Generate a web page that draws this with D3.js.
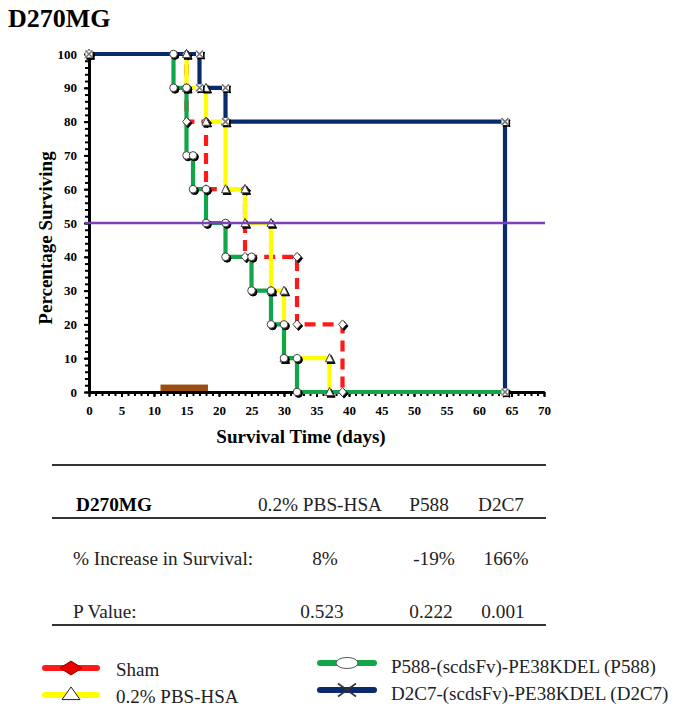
<!DOCTYPE html>
<html><head><meta charset="utf-8">
<script src="https://cdn.jsdelivr.net/npm/d3@7"></script>
<style>body{margin:0;background:#fff}svg{display:block}text{font-family:"Liberation Serif","Times New Roman",serif}</style>
</head><body><svg id="c" width="679" height="717"></svg>
<script>
// ---------- data ----------
const chartTitle = "D270MG";
const xTickValues = d3.range(0, 71, 5);
const yTickValues = d3.range(0, 101, 10);
const seriesNames = ["Sham", "0.2% PBS-HSA", "P588", "D2C7"];
// death times (days) and percentage surviving after each drop
const shamTimes = [15, 18, 24, 32, 39];
const shamSurv  = [80, 60, 40, 20, 0];
const pbsTimes  = [15, 18, 21, 24, 28, 30, 37];
const pbsSurv   = [90, 80, 60, 50, 30, 10, 0];
const p588Times = [13, 15, 16, 18, 21, 25, 28, 30, 32];
const p588Surv  = [90, 70, 60, 50, 40, 30, 20, 10, 0];
const d2c7Times = [17, 21, 64];
const d2c7Surv  = [90, 80, 0];
const seriesEndDay = [39, 37, 64, 64];
const medianLevel = 50;
const treatmentWindow = [11, 18.3];
const tableHeader = ["D270MG", "0.2% PBS-HSA", "P588", "D2C7"];
const pctIncrease = ["8%", "-19%", "166%"];
const pValues = ["0.523", "0.222", "0.001"];
const legendLabels = ["Sham", "0.2% PBS-HSA", "P588-(scdsFv)-PE38KDEL (P588)", "D2C7-(scdsFv)-PE38KDEL (D2C7)"];

// ---------- setup ----------
const svg = d3.select("#c");
svg.append("rect").attr("width", 679).attr("height", 717).attr("fill", "#fff");
const x = d3.scaleLinear().domain([0, 70]).range([89, 544]);
const y = d3.scaleLinear().domain([0, 100]).range([392, 54]);

const colors = ["#ff1a1a", "#ffff00", "#13a54a", "#0b2a6b"];
const shapes = ["diamond", "triangle", "circle", "x"];
const seriesTimes = [shamTimes, pbsTimes, p588Times, d2c7Times];
const seriesSurv = [shamSurv, pbsSurv, p588Surv, d2c7Surv];

svg.append("text").attr("x", 8).attr("y", 27).attr("font-size", 26).attr("font-weight", "bold").text(chartTitle);

// treatment bar
svg.append("rect")
  .attr("x", x(treatmentWindow[0])).attr("width", x(treatmentWindow[1]) - x(treatmentWindow[0]))
  .attr("y", y(2.2)).attr("height", y(0) - y(2.2)).attr("fill", "#9a4d0e");

// axes
function styleAxis(g) {
  g.select(".domain").attr("stroke", "#000").attr("stroke-width", 3);
  g.selectAll(".tick line").attr("stroke", "#000").attr("stroke-width", 2);
  g.selectAll("text").attr("font-family", "'Liberation Serif',serif").attr("font-weight", "bold").attr("font-size", 13).attr("fill", "#000");
}
const gxMinor = svg.append("g").attr("transform", `translate(0,${y(0)})`)
  .call(d3.axisBottom(x).tickValues(d3.range(0, 71, 1)).tickSize(4).tickSizeOuter(0).tickFormat(""));
styleAxis(gxMinor);
const gx = svg.append("g").attr("transform", `translate(0,${y(0)})`)
  .call(d3.axisBottom(x).tickValues(xTickValues).tickSize(5).tickSizeOuter(0).tickPadding(9));
styleAxis(gx);
const gyMinor = svg.append("g").attr("transform", `translate(${x(0)},0)`)
  .call(d3.axisLeft(y).tickValues(d3.range(0, 101, 2)).tickSize(4).tickSizeOuter(0).tickFormat(""));
styleAxis(gyMinor);
const gy = svg.append("g").attr("transform", `translate(${x(0)},0)`)
  .call(d3.axisLeft(y).tickValues(yTickValues).tickSize(5).tickSizeOuter(0).tickPadding(7));
styleAxis(gy);

svg.append("text").attr("x", 301).attr("y", 443).attr("text-anchor", "middle")
  .attr("font-size", 19).attr("font-weight", "bold").text("Survival Time (days)");
svg.append("text").attr("transform", "translate(52,238) rotate(-90)").attr("text-anchor", "middle")
  .attr("font-size", 19).attr("font-weight", "bold").text("Percentage Surviving");

// survival step lines
const line = d3.line().x(d => x(d[0])).y(d => y(d[1])).curve(d3.curveStepAfter);
const seriesPoints = seriesTimes.map((ts, i) => {
  const pts = [[0, 100]];
  ts.forEach((t, j) => pts.push([t, seriesSurv[i][j]]));
  pts.push([seriesEndDay[i], seriesSurv[i][seriesSurv[i].length - 1]]);
  return pts;
});
[0, 1, 2, 3].forEach(i => {
  const p = svg.append("path").attr("d", line(seriesPoints[i])).attr("fill", "none")
    .attr("stroke", colors[i]).attr("stroke-width", 4.2);
  if (i === 0) p.attr("stroke-dasharray", "11,7");
});

// markers
function shapePath(s, w, h) {
  if (s === "diamond") return `M0,${-h}L${w},0L0,${h}L${-w},0Z`;
  return `M0,${-h}L${w},${h * 0.8}L${-w},${h * 0.8}Z`;
}
function drawMarker(g, s, cx, cy, w, h, fill, stroke, shadow) {
  const grp = g.append("g").attr("transform", `translate(${cx},${cy})`);
  const draw = (gg, f, st, sw) => {
    if (s === "circle") gg.append("ellipse").attr("rx", w).attr("ry", h).attr("fill", f).attr("stroke", st).attr("stroke-width", sw);
    else if (s === "x") {
      if (shadow) gg.append("rect").attr("x", -w).attr("y", -h).attr("width", 2 * w).attr("height", 2 * h).attr("fill", f === "#000" ? "#000" : "#fff");
      gg.append("path").attr("d", `M${-w},${-h}L${w},${h}M${-w},${h}L${w},${-h}`).attr("stroke", st).attr("stroke-width", 1.6).attr("fill", "none");
    }
    else gg.append("path").attr("d", shapePath(s, w, h)).attr("fill", f).attr("stroke", st).attr("stroke-width", sw);
  };
  if (shadow) draw(grp.append("g").attr("transform", "translate(1.6,1.6)"), "#000", "#000", 1);
  draw(grp, fill, stroke, 1);
}
const mk = svg.append("g");
[0, 1, 2, 3].forEach(i => {
  const pts = [[0, 100]];
  let prev = 100;
  seriesTimes[i].forEach((t, j) => { pts.push([t, prev]); pts.push([t, seriesSurv[i][j]]); prev = seriesSurv[i][j]; });
  const dims = [[4, 4.5], [4, 4.5], [3.8, 3.8], [3.5, 3.5]][i];
  pts.forEach(p => drawMarker(mk, shapes[i], x(p[0]), y(p[1]), dims[0], dims[1], "#fff", i === 3 ? "#777" : "#444", true));
});

// median line
svg.append("line").attr("x1", 85).attr("x2", 545).attr("y1", y(medianLevel)).attr("y2", y(medianLevel))
  .attr("stroke", "#7b40b8").attr("stroke-width", 2.6);

// ---------- table ----------
const tb = svg.append("g");
function tText(txt, tx, ty, anchor, bold) {
  tb.append("text").attr("transform", `translate(${tx},${ty}) scale(1.07,1)`)
    .attr("text-anchor", anchor).attr("font-size", 18).attr("font-weight", bold ? "bold" : "normal")
    .attr("fill", bold ? "#000" : "#222").text(txt);
}
[465, 518, 625].forEach(d => tb.append("line").attr("x1", 52).attr("x2", 546).attr("y1", d).attr("y2", d).attr("stroke", "#333").attr("stroke-width", 2));
const colCenters = [320, 429, 501];
tText(tableHeader[0], 76, 511, "start", true);
tableHeader.slice(1).forEach((h, i) => tText(h, colCenters[i], 511, "middle", false));
tText("% Increase in Survival:", 73, 565, "start", false);
pctIncrease.forEach((v, i) => tText(v, colCenters[i] + 5, 565, "middle", false));
tText("P Value:", 73, 618, "start", false);
pValues.forEach((v, i) => tText(v, colCenters[i] + 2, 618, "middle", false));

// ---------- legend ----------
const lg = svg.append("g");
const legPos = [[45, 97, 668, 116, 676], [45, 97, 695, 116, 703], [320, 374, 663, 391, 673], [320, 374, 690, 391, 700]];
legPos.forEach((p, i) => {
  lg.append("line").attr("x1", p[0]).attr("x2", p[1]).attr("y1", p[2]).attr("y2", p[2])
    .attr("stroke", colors[i]).attr("stroke-width", 6).attr("stroke-linecap", "round");
  const cx = (p[0] + p[1]) / 2;
  if (i === 0) drawMarker(lg, "diamond", cx, p[2], 11, 7, "#e60000", "#900", false);
  if (i === 1) drawMarker(lg, "triangle", cx, p[2] - 1, 9, 7, "#fff", "#222", false);
  if (i === 2) drawMarker(lg, "circle", cx, p[2], 11, 5.5, "#fff", "#555", false);
  if (i === 3) drawMarker(lg, "x", cx, p[2], 9, 6.5, "#fff", "#333", false);
  lg.append("text").attr("x", p[3]).attr("y", p[4]).attr("font-size", 19).attr("fill", "#222").text(legendLabels[i]);
});
</script></body></html>
